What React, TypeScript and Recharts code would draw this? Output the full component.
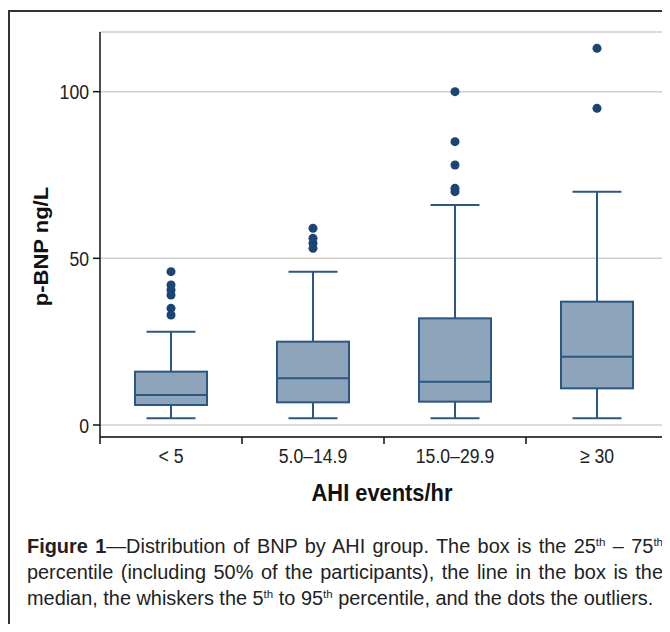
import React from 'react';
import { ComposedChart, Bar, Scatter, XAxis, YAxis, CartesianGrid, Label } from 'recharts';

if (typeof document !== 'undefined') {
  document.body.style.overflow = 'hidden';
}

const groups = ['< 5', '5.0–14.9', '15.0–29.9', '≥ 30'];
const whiskerLow = [2, 2, 2, 2];
const q1 = [6, 6.8, 7, 11];
const median = [9, 14, 13, 20.5];
const q3 = [16, 25, 32, 37];
const whiskerHigh = [28, 46, 66, 70];
const outliersLt5 = [46, 42, 40.5, 39, 35, 33];
const outliers5to15 = [59, 56, 54.5, 53];
const outliers15to30 = [100, 85, 78, 71, 70];
const outliersGe30 = [113, 95];
const yTicks = [0, 50, 100];

const boxData = groups.map((g, i) => ({
  group: g,
  range: [whiskerLow[i], whiskerHigh[i]],
  lo: whiskerLow[i],
  q1: q1[i],
  med: median[i],
  q3: q3[i],
  hi: whiskerHigh[i],
}));

const outlierData = [
  ...outliersLt5.map((v) => ({ group: groups[0], value: v })),
  ...outliers5to15.map((v) => ({ group: groups[1], value: v })),
  ...outliers15to30.map((v) => ({ group: groups[2], value: v })),
  ...outliersGe30.map((v) => ({ group: groups[3], value: v })),
];

const SANS = "'Liberation Sans', Arial, sans-serif";
const BOX_FILL = '#8da4ba';
const BOX_STROKE = '#2c5782';
const DOT = '#1c4573';

const BoxShape = (props: any) => {
  const { x, y, width, height, payload } = props;
  if (x == null || y == null) return null;
  const { lo, hi } = payload;
  const pix = (v: number) => y + (height * (hi - v)) / (hi - lo);
  const cx = x + width / 2;
  const capHalf = width * 0.34;
  const yHi = pix(hi);
  const yLo = pix(lo);
  const yQ1 = pix(payload.q1);
  const yQ3 = pix(payload.q3);
  const yMed = pix(payload.med);
  return (
    <g stroke={BOX_STROKE} strokeWidth={2} fill="none">
      <line x1={cx} x2={cx} y1={yHi} y2={yQ3} />
      <line x1={cx} x2={cx} y1={yQ1} y2={yLo} />
      <line x1={cx - capHalf} x2={cx + capHalf} y1={yHi} y2={yHi} />
      <line x1={cx - capHalf} x2={cx + capHalf} y1={yLo} y2={yLo} />
      <rect x={x} y={yQ3} width={width} height={yQ1 - yQ3} fill={BOX_FILL} />
      <line x1={x} x2={x + width} y1={yMed} y2={yMed} />
    </g>
  );
};

const XTick = (props: any) => {
  const { x, y, payload, index, width, visibleTicksCount } = props;
  const n = visibleTicksCount || groups.length;
  const bw = width ? width / n : 142;
  const axisY = y - 7;
  return (
    <g>
      <line x1={x - bw / 2} x2={x - bw / 2} y1={axisY} y2={axisY + 7} stroke="#111" strokeWidth={1.5} />
      {index === n - 1 ? (
        <line x1={x + bw / 2} x2={x + bw / 2} y1={axisY} y2={axisY + 7} stroke="#111" strokeWidth={1.5} />
      ) : null}
      <text
        transform={`translate(${x},${y + 19}) scale(0.84,1)`}
        textAnchor="middle"
        fontSize={21}
        fontFamily={SANS}
        fill="#222"
      >
        {payload.value}
      </text>
    </g>
  );
};

const YTick = (props: any) => {
  const { x, y, payload } = props;
  return (
    <text
      transform={`translate(${x},${y}) scale(0.84,1)`}
      dy="0.36em"
      textAnchor="end"
      fontSize={21}
      fontFamily={SANS}
      fill="#222"
    >
      {payload.value}
    </text>
  );
};

const YTitle = (props: any) => {
  const vb = props.viewBox || {};
  const cx = vb.x + 40;
  const cy = vb.y + vb.height / 2 + 12;
  return (
    <text
      transform={`translate(${cx},${cy}) rotate(-90) scale(1,0.88)`}
      textAnchor="middle"
      fontSize={22}
      fontWeight="bold"
      fontFamily={SANS}
      fill="#111"
    >
      p-BNP ng/L
    </text>
  );
};

const XTitle = (props: any) => {
  const vb = props.viewBox || {};
  const cx = vb.x + vb.width / 2 - 2;
  return (
    <text
      transform={`translate(${cx},${vb.y + 64}) scale(0.93,1)`}
      textAnchor="middle"
      fontSize={23.5}
      fontWeight="bold"
      fontFamily={SANS}
      fill="#111"
    >
      AHI events/hr
    </text>
  );
};

const Sup = ({ children }: { children: React.ReactNode }) => (
  <span style={{ fontSize: '0.58em', position: 'relative', top: '-0.6em', lineHeight: 0 }}>{children}</span>
);

const lineStyle: React.CSSProperties = {
  textAlign: 'justify',
  textAlignLast: 'justify' as any,
};

export default function App() {
  return (
    <div style={{ position: 'relative', width: 662, height: 616 }}>
      <div
        style={{
          position: 'absolute',
          left: 0,
          top: 2,
          width: 660,
          height: 620,
          borderTop: '2px solid #333',
          borderLeft: '2px solid #333',
        }}
      />
      <div style={{ position: 'absolute', left: 0, top: 0 }}>
        <ComposedChart
          width={662}
          height={520}
          data={boxData}
          margin={{ top: 24, right: 2, bottom: 31, left: 0 }}
        >
          <CartesianGrid horizontal vertical={false} stroke="#cfcfcf" strokeWidth={1.5} />
          <XAxis
            dataKey="group"
            type="category"
            allowDuplicatedCategory={false}
            height={60}
            tickLine={false}
            tickSize={7}
            tickMargin={0}
            axisLine={{ stroke: '#111', strokeWidth: 1.5 }}
            tick={<XTick />}
            interval={0}
          >
            <Label content={<XTitle />} />
          </XAxis>
          <YAxis
            type="number"
            domain={[-3.6, 117.9]}
            allowDataOverflow
            ticks={yTicks}
            width={92}
            tickSize={7}
            tickMargin={4}
            tickLine={{ stroke: '#111', strokeWidth: 1.5 }}
            axisLine={{ stroke: '#111', strokeWidth: 1.5 }}
            tick={<YTick />}
          >
            <Label content={<YTitle />} />
          </YAxis>
          <Bar dataKey="range" barSize={72} shape={<BoxShape />} isAnimationActive={false} />
          <Scatter data={outlierData} dataKey="value" fill={DOT} isAnimationActive={false} />
        </ComposedChart>
      </div>
      <div
        style={{
          position: 'absolute',
          left: 19,
          top: 525,
          width: 636,
          fontFamily: SANS,
          fontSize: 19.9,
          lineHeight: '26px',
          color: '#222',
        }}
      >
        <div style={lineStyle}>
          <b>Figure 1</b>—Distribution of BNP by AHI group. The box is the 25<Sup>th</Sup> – 75<Sup>th</Sup>
        </div>
        <div style={lineStyle}>
          percentile (including 50% of the participants), the line in the box is the
        </div>
        <div>
          median, the whiskers the 5<Sup>th</Sup> to 95<Sup>th</Sup> percentile, and the dots the outliers.
        </div>
      </div>
    </div>
  );
}
